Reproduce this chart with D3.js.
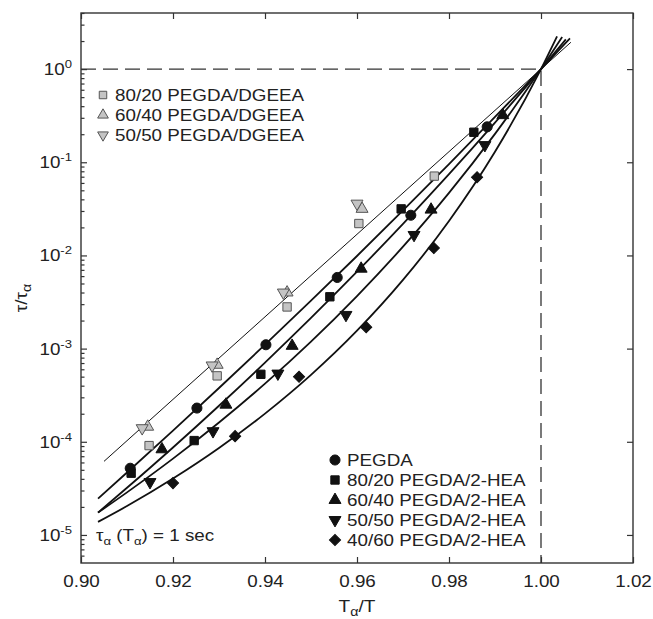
<!DOCTYPE html>
<html>
<head>
<meta charset="utf-8">
<script src="https://cdn.jsdelivr.net/npm/d3@7"></script>
<style>
  body { margin: 0; background: #fff; }
  svg { font-family: "Liberation Sans", Arial, sans-serif; }
</style>
</head>
<body>
<div id="chart"></div>
<script>
// chart data
const xTicks = [0.90, 0.92, 0.94, 0.96, 0.98, 1.00, 1.02];
const yTicks = [1e-5, 1e-4, 1e-3, 1e-2, 1e-1, 1e0];
const yTickExp = ["-5", "-4", "-3", "-2", "-1", "0"];

// markers: [Tα/T, τ/τα]
const pegda      = [[0.9107, 5.2e-5], [0.9252, 2.3e-4], [0.9402, 1.1e-3], [0.9557, 5.8e-3], [0.9717, 0.027], [0.9883, 0.24]];
const hea8020    = [[0.9109, 4.6e-5], [0.9246, 1.03e-4], [0.9391, 5.3e-4], [0.9541, 3.6e-3], [0.9696, 0.0316], [0.9854, 0.21]];
const hea6040    = [[0.9176, 8.3e-5], [0.9315, 2.5e-4], [0.9459, 1.07e-3], [0.9609, 7.2e-3], [0.9761, 0.031], [0.9917, 0.32]];
const hea5050    = [[0.9150, 3.7e-5], [0.9287, 1.3e-4], [0.9428, 5.4e-4], [0.9576, 2.3e-3], [0.9724, 0.0166], [0.9878, 0.153]];
const hea4060    = [[0.9200, 3.6e-5], [0.9335, 1.15e-4], [0.9474, 5.0e-4], [0.9620, 1.7e-3], [0.9767, 0.012], [0.9861, 0.069]];
const dgeea8020  = [[0.9148, 9.1e-5], [0.9296, 5.1e-4], [0.9448, 2.8e-3], [0.9604, 0.022], [0.9768, 0.071]];
const dgeea6040  = [[0.9145, 1.45e-4], [0.9296, 6.7e-4], [0.9448, 4.0e-3], [0.9611, 0.0316]];
const dgeea5050  = [[0.9133, 1.4e-4], [0.9285, 6.6e-4], [0.9440, 4.0e-3], [0.9600, 0.036]];

// fitted curves: [Tα/T, log10(τ/τα)]
const fitThin = [[0.905, -4.21], [0.92, -3.545], [0.94, -2.659], [0.96, -1.773], [0.98, -0.886], [1.00, 0], [1.0065, 0.288]];
const fitA = [[0.9037, -4.61], [0.91, -4.330], [0.92, -3.880], [0.93, -3.423], [0.94, -2.958], [0.95, -2.486], [0.96, -2.006], [0.97, -1.517], [0.98, -1.020], [0.99, -0.514], [1.00, 0], [1.0063, 0.329]];
const fitB = [[0.9037, -4.76], [0.91, -4.494], [0.92, -4.061], [0.93, -3.613], [0.94, -3.150], [0.95, -2.671], [0.96, -2.175], [0.97, -1.661], [0.98, -1.128], [0.99, -0.574], [1.00, 0], [1.0054, 0.319]];
const fitC = [[0.9037, -4.76], [0.91, -4.543], [0.92, -4.181], [0.93, -3.793], [0.94, -3.376], [0.95, -2.925], [0.96, -2.436], [0.97, -1.906], [0.98, -1.328], [0.99, -0.695], [1.00, 0], [1.0046, 0.344]];
const fitD = [[0.9037, -4.86], [0.91, -4.690], [0.92, -4.395], [0.93, -4.067], [0.94, -3.698], [0.95, -3.282], [0.96, -2.808], [0.97, -2.263], [0.98, -1.630], [0.99, -0.887], [1.00, 0], [1.0035, 0.352]];

const refPoint = [1.00, 1];

const width = 653, height = 619;
const svg = d3.select('#chart').append('svg')
  .attr('width', width)
  .attr('height', height);

const x = d3.scaleLinear().domain([0.90, 1.02]).range([81, 633]);
const y = d3.scaleLog().domain([5e-6, 4]).range([563, 13]);

const axisColor = '#333';
const textColor = '#222';
const stretch = 1.19;  // the original lettering is wide

// minor ticks on the left
const minorTicks = [];
[1e-6, 1e-5, 1e-4, 1e-3, 1e-2, 1e-1, 1].forEach(d => {
  for (let k = 2; k <= 9; k++) {
    const v = d * k;
    if (v >= 5e-6 && v <= 4) minorTicks.push(v);
  }
});

function styleAxis(g) {
  g.select('.domain').remove();
  g.selectAll('line').attr('stroke', axisColor).attr('stroke-width', 1.2);
  g.selectAll('text').attr('fill', textColor).style('font-size', '15.8px')
    .attr('transform', `scale(${stretch},1)`);
}

function wideText(px, py, size, anchor) {
  return svg.append('text')
    .attr('transform', `translate(${px},${py}) scale(${stretch},1)`)
    .attr('text-anchor', anchor || 'start')
    .attr('fill', textColor)
    .style('font-size', size + 'px');
}

svg.append('g')
  .attr('transform', `translate(0,${y.range()[0]})`)
  .call(d3.axisBottom(x).tickValues(xTicks).tickFormat(d3.format('.2f')).tickSizeInner(-6).tickSizeOuter(0).tickPadding(13))
  .call(styleAxis);

svg.append('g')
  .attr('transform', `translate(0,${y.range()[1]})`)
  .call(d3.axisTop(x).tickValues(xTicks).tickFormat('').tickSizeInner(-6).tickSizeOuter(0))
  .call(styleAxis);

svg.append('g')
  .attr('transform', `translate(${x.range()[0]},0)`)
  .call(d3.axisLeft(y).tickValues(minorTicks).tickFormat('').tickSizeInner(-3.5).tickSizeOuter(0))
  .call(styleAxis);

svg.append('g')
  .attr('transform', `translate(${x.range()[0]},0)`)
  .call(d3.axisLeft(y).tickValues(yTicks).tickFormat('').tickSizeInner(-6).tickSizeOuter(0))
  .call(styleAxis);

svg.append('g')
  .attr('transform', `translate(${x.range()[1]},0)`)
  .call(d3.axisRight(y).tickValues(yTicks).tickFormat('').tickSizeInner(-6).tickSizeOuter(0))
  .call(styleAxis);

// y tick labels 10^n
yTicks.forEach((v, i) => {
  const t = wideText(72, y(v) + 6, 15.8, 'end');
  t.append('tspan').text('10');
  t.append('tspan').attr('dy', -7).style('font-size', '11px').text(yTickExp[i]);
});

// frame
svg.append('rect')
  .attr('x', x.range()[0]).attr('y', y.range()[1])
  .attr('width', x.range()[1] - x.range()[0])
  .attr('height', y.range()[0] - y.range()[1])
  .attr('fill', 'none')
  .attr('stroke', axisColor)
  .attr('stroke-width', 1.4);

// dashed reference lines
svg.append('path')
  .attr('d', `M${x(0.90)},${y(refPoint[1])}H${x(refPoint[0])}V${y(5e-6)}`)
  .attr('fill', 'none')
  .attr('stroke', '#333')
  .attr('stroke-width', 1.3)
  .attr('stroke-dasharray', '15,7');

// fit curves
const line = d3.line()
  .x(d => x(d[0]))
  .y(d => y(Math.pow(10, d[1])))
  .curve(d3.curveMonotoneX);

svg.append('path').datum(fitThin)
  .attr('d', line).attr('fill', 'none').attr('stroke', '#111').attr('stroke-width', 1);
[fitA, fitB, fitC, fitD].forEach(f => {
  svg.append('path').datum(f)
    .attr('d', line).attr('fill', 'none').attr('stroke', '#111').attr('stroke-width', 1.8);
});

// markers
const black = { fill: '#111', stroke: '#111' };
const gray = { fill: '#c4c4c4', stroke: '#555' };
const shapes = {
  circle:  { type: d3.symbolCircle, size: 80, rot: 0 },
  square:  { type: d3.symbolSquare, size: 70, rot: 0 },
  up:      { type: d3.symbolTriangle, size: 62, rot: 0 },
  down:    { type: d3.symbolTriangle, size: 62, rot: 180 },
  diamond: { type: d3.symbolSquare, size: 62, rot: 45 }
};

const series = [
  { data: pegda, shape: 'circle', col: black },
  { data: hea8020, shape: 'square', col: black },
  { data: hea6040, shape: 'up', col: black },
  { data: hea5050, shape: 'down', col: black },
  { data: hea4060, shape: 'diamond', col: black },
  { data: dgeea8020, shape: 'square', col: gray },
  { data: dgeea6040, shape: 'up', col: gray },
  { data: dgeea5050, shape: 'down', col: gray }
];

function drawSymbol(g, px, py, shape, col, scale) {
  const s = shapes[shape];
  g.append('path')
    .attr('d', d3.symbol().type(s.type).size(s.size * (scale || 1))())
    .attr('transform', `translate(${px},${py}) rotate(${s.rot})`)
    .attr('fill', col.fill)
    .attr('stroke', col.stroke)
    .attr('stroke-width', 1);
}

const marks = svg.append('g');
series.forEach(s => {
  s.data.forEach(d => drawSymbol(marks, x(d[0]), y(d[1]), s.shape, s.col));
});

// legends
const legendTop = [
  { label: '80/20 PEGDA/DGEEA', shape: 'square', col: gray },
  { label: '60/40 PEGDA/DGEEA', shape: 'up', col: gray },
  { label: '50/50 PEGDA/DGEEA', shape: 'down', col: gray }
];
const legendBottom = [
  { label: 'PEGDA', shape: 'circle', col: black },
  { label: '80/20 PEGDA/2-HEA', shape: 'square', col: black },
  { label: '60/40 PEGDA/2-HEA', shape: 'up', col: black },
  { label: '50/50 PEGDA/2-HEA', shape: 'down', col: black },
  { label: '40/60 PEGDA/2-HEA', shape: 'diamond', col: black }
];

function drawLegend(items, lx, ly, step, scale) {
  const g = svg.append('g');
  items.forEach((it, i) => {
    const cy = ly + i * step;
    drawSymbol(g, lx, cy, it.shape, it.col, scale);
    wideText(lx + 12, cy + 5.5, 15.8).text(it.label);
  });
}
drawLegend(legendTop, 103, 95, 20, 0.8);
drawLegend(legendBottom, 335, 460, 20, 1);

// annotation
const ann = wideText(96, 541, 15.8);
ann.append('tspan').text('\u03c4');
ann.append('tspan').attr('dy', 4).style('font-size', '11px').text('\u03b1');
ann.append('tspan').attr('dy', -4).text(' (T');
ann.append('tspan').attr('dy', 4).style('font-size', '11px').text('\u03b1');
ann.append('tspan').attr('dy', -4).text(') = 1 sec');

// axis titles
const xt = wideText(357, 612, 16, 'middle');
xt.append('tspan').text('T');
xt.append('tspan').attr('dy', 4).style('font-size', '12px').text('\u03b1');
xt.append('tspan').attr('dy', -4).text('/T');

const yt = svg.append('text')
  .attr('transform', `translate(27,298) rotate(-90) scale(${stretch},1)`)
  .attr('text-anchor', 'middle')
  .attr('fill', textColor)
  .style('font-size', '16px');
yt.append('tspan').text('\u03c4/\u03c4');
yt.append('tspan').attr('dy', 4).style('font-size', '12px').text('\u03b1');
</script>
</body>
</html>
